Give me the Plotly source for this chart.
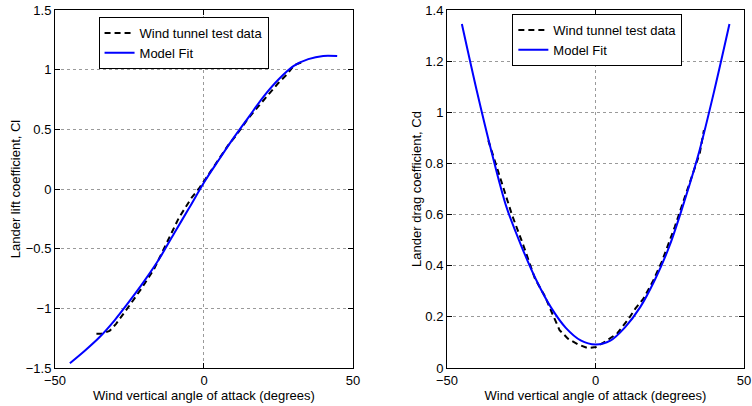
import plotly.graph_objects as go

# ---------------- data ----------------
# Left panel: lift coefficient
cl_fit_alpha = [-45, -40, -35, -30, -25, -20, -15, -10, -5, 0, 5, 10, 15, 20, 25, 30, 35, 40, 44.7]
cl_fit = [-1.46, -1.355, -1.24, -1.1, -0.94, -0.77, -0.585, -0.37, -0.16, 0.055, 0.245, 0.43, 0.603,
          0.775, 0.918, 1.03, 1.088, 1.115, 1.114]

cl_data_alpha = [-36.1, -34.4, -31.7, -29.5, -25.0, -20.6, -16.7, -14.5, -11.8, -8.4, -4.0, -1.8, 0.4,
                 8.2, 10.4, 14.8, 18.1, 20.4, 24.8, 28.1, 30.3, 33.1]
cl_data = [-1.213, -1.213, -1.19, -1.13, -0.976, -0.82, -0.668, -0.556, -0.416, -0.24, -0.067, 0.0, 0.08,
           0.37, 0.436, 0.59, 0.688, 0.758, 0.884, 0.968, 1.038, 1.065]

# Right panel: drag coefficient
cd_fit_alpha = [-45, -40, -35, -30, -25, -20, -15, -10, -5, 0, 5, 10, 15, 20, 25, 30, 35, 40, 45.1]
cd_fit = [1.345, 1.085, 0.845, 0.63, 0.478, 0.345, 0.237, 0.157, 0.108, 0.092, 0.107, 0.16, 0.237,
          0.345, 0.48, 0.655, 0.85, 1.085, 1.345]

cd_data_alpha = [-36.1, -33.9, -31.5, -28.1, -24.3, -20.4, -17.0, -14.3, -12.1, -9.3, -6.0, -2.7, 0.1,
                 3.5, 7.3, 11.2, 13.4, 16.2, 19.5, 22.3, 25.1, 26.7, 30.1, 32.8, 35.1, 36.5]
cd_data = [0.89, 0.806, 0.722, 0.598, 0.48, 0.35, 0.28, 0.206, 0.148, 0.115, 0.093, 0.078, 0.082,
           0.105, 0.135, 0.193, 0.232, 0.272, 0.343, 0.415, 0.50, 0.552, 0.669, 0.761, 0.84, 0.93]

x_ticks = [-50, 0, 50]
x_ticktext = ["\u221250", "0", "50"]
cl_ticks = [-1.5, -1, -0.5, 0, 0.5, 1, 1.5]
cl_ticktext = ["\u22121.5", "\u22121", "\u22120.5", "0", "0.5", "1", "1.5"]
cd_ticks = [0, 0.2, 0.4, 0.6, 0.8, 1.0, 1.2, 1.4]
cd_ticktext = ["0", "0.2", "0.4", "0.6", "0.8", "1", "1.2", "1.4"]

# ---------------- figure ----------------
FONT = "Liberation Sans, Arial, Helvetica, sans-serif"
BLUE = "#0000ff"

fig = go.Figure()

fig.add_trace(go.Scatter(x=cl_data_alpha, y=cl_data, mode="lines", name="Wind tunnel test data",
                         line=dict(color="black", width=2, dash="6px,4px"),
                         xaxis="x", yaxis="y", legend="legend"))
fig.add_trace(go.Scatter(x=cl_fit_alpha, y=cl_fit, mode="lines", name="Model Fit",
                         line=dict(color=BLUE, width=2, shape="spline", smoothing=0.9),
                         xaxis="x", yaxis="y", legend="legend"))
fig.add_trace(go.Scatter(x=cd_data_alpha, y=cd_data, mode="lines", name="Wind tunnel test data",
                         line=dict(color="black", width=2, dash="6px,4px"),
                         xaxis="x2", yaxis="y2", legend="legend2"))
fig.add_trace(go.Scatter(x=cd_fit_alpha, y=cd_fit, mode="lines", name="Model Fit",
                         line=dict(color=BLUE, width=2, shape="spline", smoothing=0.9),
                         xaxis="x2", yaxis="y2", legend="legend2"))

W, H = 752, 406
ML, MR, MT, MB = 55, 1, 10, 38
PW = W - ML - MR
PH = H - MT - MB

axis_common = dict(
    showline=True, linecolor="black", linewidth=1, mirror="allticks",
    ticks="inside", ticklen=5, tickcolor="black", tickwidth=1,
    showgrid=True, gridcolor="#9a9a9a", griddash="dot", gridwidth=1,
    zeroline=False, tickfont=dict(family=FONT, size=13, color="black"),
    tickmode="array", ticklabeloverflow="allow",
)

fig.update_layout(
    width=W, height=H,
    margin=dict(l=ML, r=MR, t=MT, b=MB),
    paper_bgcolor="white", plot_bgcolor="white",
    font=dict(family=FONT, size=13, color="black"),
    xaxis=dict(domain=[0, 301 / PW], range=[-50, 50], tickvals=x_ticks, ticktext=x_ticktext,
               anchor="y",
               title=dict(text="Wind vertical angle of attack (degrees)", font=dict(size=13), standoff=0),
               **axis_common),
    yaxis=dict(domain=[0, 1], range=[-1.5, 1.5], tickvals=cl_ticks, ticktext=cl_ticktext,
               anchor="x",
               title=dict(text="Lander lift coefficient, Cl", font=dict(size=13), standoff=2),
               **axis_common),
    xaxis2=dict(domain=[396 / PW, 1], range=[-50, 50], tickvals=x_ticks, ticktext=x_ticktext,
                anchor="y2",
                title=dict(text="Wind vertical angle of attack (degrees)", font=dict(size=13), standoff=0),
                **axis_common),
    yaxis2=dict(domain=[0, 1], range=[0, 1.4], tickvals=cd_ticks, ticktext=cd_ticktext,
                anchor="x2",
                title=dict(text="Lander drag coefficient, Cd", font=dict(size=13), standoff=0),
                **axis_common),
    legend=dict(x=(99 - ML) / PW, y=1 - (17 - MT) / PH, xanchor="left", yanchor="top",
                bgcolor="white", bordercolor="black", borderwidth=1,
                font=dict(family=FONT, size=13), tracegroupgap=0, itemwidth=30),
    legend2=dict(x=(517 - ML) / PW, y=1 - (14 - MT) / PH, xanchor="left", yanchor="top",
                 bgcolor="white", bordercolor="black", borderwidth=1,
                 font=dict(family=FONT, size=13), tracegroupgap=0, itemwidth=30),
    showlegend=True,
)

# remove the default 8px page margin so the figure sits at the window's top-left corner
fig.write_html("out.html", config={"displayModeBar": False},
               post_script="document.body.style.margin='0px';")
